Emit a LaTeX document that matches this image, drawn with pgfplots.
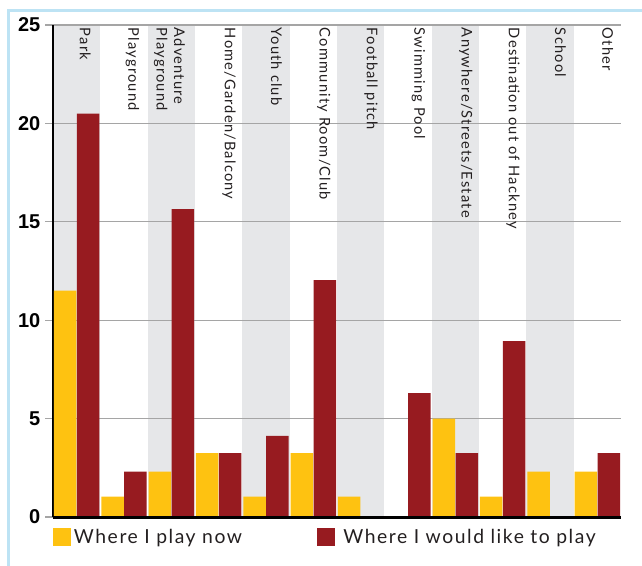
\documentclass[border=0pt]{standalone}
\usepackage{pgfplots}
\pgfplotsset{compat=1.18}
\usepackage{fontspec}
\setmainfont{Lato}
\newfontfamily\tickfont{Liberation Sans}
\newfontfamily\labelfont{Lato}[LetterSpace=8]
\newfontfamily\legendfont{Lato}[LetterSpace=8]
\definecolor{cyel}{RGB}{254,194,17}
\definecolor{cred}{RGB}{151,27,32}
\definecolor{cband}{RGB}{230,231,233}
\definecolor{cgrid}{RGB}{165,165,165}
\definecolor{cborder}{RGB}{189,227,244}
\definecolor{ctext}{RGB}{35,31,32}
\pgfplotsset{
  layers/mylayers/.define layer set={axis background,axis grid,pre main,main,axis ticks,axis lines,axis tick labels,axis descriptions,axis foreground}{},
}
\begin{document}
\begin{tikzpicture}
\begin{axis}[
  set layers=mylayers,
  at={(39.75pt,-387.75pt)}, anchor=south west,
  width=426pt, height=369pt, scale only axis,
  xmin=-0.5, xmax=11.5, ymin=0, ymax=25,
  axis x line*=bottom, axis y line*=left,
  axis line style={-, black, line width=2pt},
  xtick=\empty,
  ytick={0,5,10,15,20,25},
  ymajorgrids, grid style={cgrid, line width=0.9pt},
  tick align=outside, major tick length=6pt,
  ytick style={cgrid, line width=0.9pt},
  /pgf/number format/assume math mode=true,
  yticklabel style={font=\tickfont\bfseries\fontsize{15}{18}\selectfont, text=black},
  ybar, bar width=0.475,
  legend columns=2,
  legend style={at={(0,0)}, anchor=north west, yshift=-7pt, draw=none, fill=none, inner sep=0pt,
    font=\legendfont\fontsize{14.5}{17}\selectfont, text=ctext,
    /tikz/every even column/.append style={column sep=54pt}},
  legend image code/.code={\fill[#1] (0pt,-6.75pt) rectangle (13.5pt,6.75pt);},
]
\pgfplotsextra{%
\begin{pgfonlayer}{axis background}
\pgfplotsinvokeforeach{0,2,4,6,8,10}{
  \fill[cband] (axis cs:##1-0.5,0) rectangle (axis cs:##1+0.5,25);
}
\end{pgfonlayer}}
\addplot[fill=cyel, draw=none, bar shift=-0.2425] coordinates {
 (0,11.5) (1,1.04) (2,2.3) (3,3.25) (4,1.04) (5,3.25) (6,1.04) (7,0) (8,5.0) (9,1.04) (10,2.3) (11,2.3)};
\addlegendentry{Where I play now}
\addplot[fill=cred, draw=none, bar shift=0.2425] coordinates {
 (0,20.5) (1,2.3) (2,15.65) (3,3.25) (4,4.12) (5,12.04) (6,0) (7,6.3) (8,3.25) (9,8.94) (10,0) (11,3.25)};
\addlegendentry{\hspace*{4.5pt}Where I would like to play}
\pgfplotsextra{%
\begin{pgfonlayer}{axis foreground}
\draw[black, line width=2.25pt] (rel axis cs:0,0) -- (rel axis cs:1,0);
\end{pgfonlayer}}
\begin{scope}[every node/.style={rotate=-90, anchor=west, font=\labelfont\fontsize{11}{13}\selectfont, text=ctext, inner sep=2pt, align=left}]
\node at (axis cs:0.18,25) {Park};
\node at (axis cs:1.18,25) {Playground};
\node at (axis cs:1.96,25) {Adventure\\Playground};
\node at (axis cs:3.22,25) {Home/Garden/Balcony};
\node at (axis cs:4.22,25) {Youth club};
\node at (axis cs:5.22,25) {Community Room/Club};
\node at (axis cs:6.22,25) {Football pitch};
\node at (axis cs:7.22,25) {Swimming Pool};
\node at (axis cs:8.22,25) {Anywhere/Streets/Estate};
\node at (axis cs:9.22,25) {Destination out of Hackney};
\node at (axis cs:10.22,25) {School};
\node at (axis cs:11.22,25) {Other};
\end{scope}
\end{axis}
\draw[cborder, line width=2.25pt, line join=miter] (6.2pt,-430pt) -- (6.2pt,-8.1pt) -- (490pt,-8.1pt);
\pgfresetboundingbox
\useasboundingbox (0,0) rectangle (481.5pt,-423.75pt);
\end{tikzpicture}
\end{document}
